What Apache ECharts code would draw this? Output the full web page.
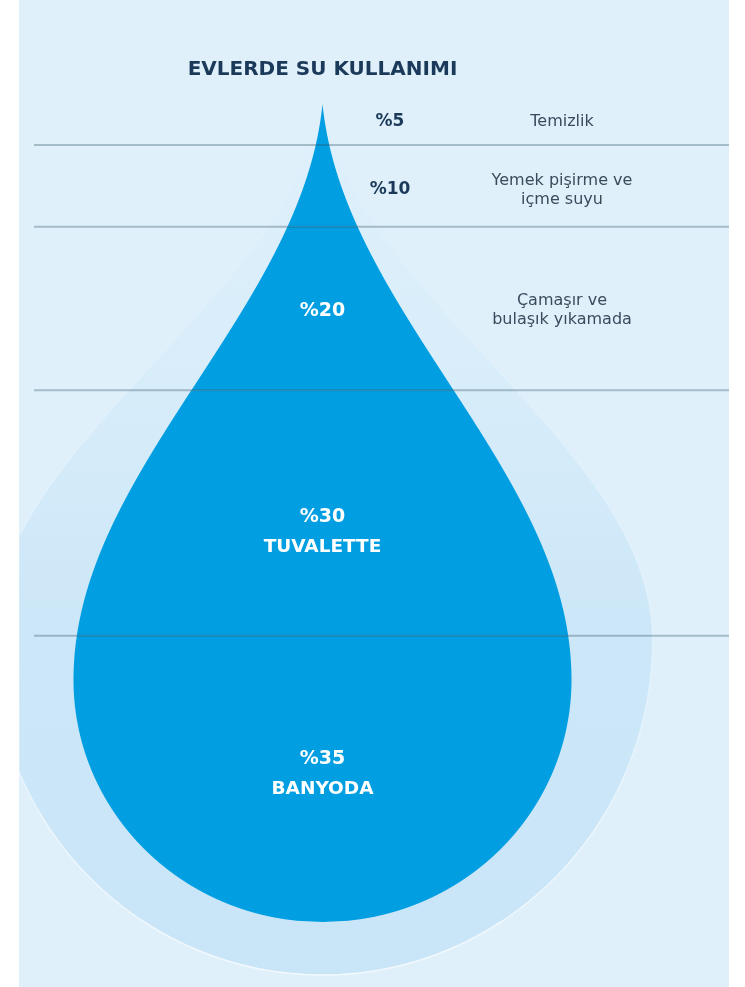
<!DOCTYPE html>
<html>
<head>
<meta charset="utf-8">
<script src="https://cdn.jsdelivr.net/npm/echarts@6/dist/echarts.min.js"></script>
<style>
  html, body { margin: 0; padding: 0; background: #ffffff; }
  #chart { width: 745px; height: 987px; }
</style>
</head>
<body>
<div id="chart"></div>
<script>
// ---- DATA ----
const titleText = 'EVLERDE SU KULLANIMI';
const categories = ['Temizlik', 'Yemek pişirme ve\niçme suyu', 'Çamaşır ve\nbulaşık yıkamada', 'TUVALETTE', 'BANYODA'];
const shares = [5, 10, 20, 30, 35];
const percentLabels = ['%5', '%10', '%20', '%30', '%35'];

// ---- LAYOUT / STYLE (not data) ----
const LAYOUT = {
  centerX: 322.5,
  dropHalfWidth: 249,
  dropBellyRatio: 0.704,
  tipBlend: 0.15,
  haloHalfWidth: 330,
  haloBellyY: 640,
  haloBottomY: 975,
  haloTopY: 100,
  bgX1: 19, bgX2: 729,
  lineX1: 34, lineX2: 729,
  outsideX: 390,
  descX: 562,
  labelInside: [false, false, true, true, true],
  descOutside: [true, true, true, false, false],
  pctOffset: [-2.5, 4, 2.5, 4.5, -20],
  subOffset: [0, 0, 0, 34, 10],
  descOffset: [-2.5, 5, 1.5, 0, 0]
};
const COLORS = {
  bg: '#dff0fb', drop: '#019fe2', line: 'rgba(41,74,92,0.32)',
  title: '#1b3a5a', pct: '#1b3a5a', desc: '#3a4b5c', white: '#ffffff'
};
const FONT = '"DejaVu Sans", Verdana, sans-serif';

// cumulative ranges built from shares
const ranges = [];
let acc = 0;
shares.forEach(v => { ranges.push([acc, acc + v]); acc += v; });
const total = acc;

function halfWidth(y, P) {
  if (y <= P.top || y >= P.bot) return 0;
  if (y >= P.mid) {
    const u = (y - P.mid) / (P.bot - P.mid);
    return P.a * Math.sqrt(Math.max(0, 1 - u * u));
  }
  const s = (y - P.top) / (P.mid - P.top);
  const sn = Math.sin(Math.PI * s / 2);
  return P.a * ((1 - P.w) * sn * sn + P.w * sn);
}

function bandPolygon(y0, y1, P, cx, xmin, xmax) {
  const right = [], left = [];
  const step = 1.5;
  const clampX = x => Math.min(xmax, Math.max(xmin, x));
  for (let y = y0; y < y1; y += step) {
    const h = halfWidth(y, P);
    right.push([clampX(cx + h), y]); left.push([clampX(cx - h), y]);
  }
  const hEnd = halfWidth(y1, P);
  right.push([clampX(cx + hEnd), y1]); left.push([clampX(cx - hEnd), y1]);
  return right.concat(left.reverse());
}

function dropParams(api) {
  const top = api.coord([0, 0])[1];
  const bot = api.coord([0, total])[1];
  return { top: top, bot: bot, mid: top + LAYOUT.dropBellyRatio * (bot - top), a: LAYOUT.dropHalfWidth, w: LAYOUT.tipBlend };
}

const chart = echarts.init(document.getElementById('chart'), null, { renderer: 'canvas' });

const option = {
  backgroundColor: '#ffffff',
  animation: false,
  graphic: [
    { type: 'rect', z: -10, silent: true, shape: { x: LAYOUT.bgX1, y: 0, width: LAYOUT.bgX2 - LAYOUT.bgX1, height: 987 }, style: { fill: COLORS.bg } },
    { type: 'text', z: 10, x: LAYOUT.centerX, y: 70, style: { text: titleText, fill: COLORS.title, font: 'bold 20px ' + FONT, textAlign: 'center', textVerticalAlign: 'middle' } }
  ],
  grid: { left: 0, right: 0, top: 104, bottom: 65 },
  xAxis: { type: 'value', min: 0, max: 745, show: false },
  yAxis: { type: 'value', min: 0, max: total, inverse: true, show: false },
  series: [
    {
      // halo behind the drop
      type: 'custom', z: 1, silent: true,
      data: [[0, total]],
      encode: { y: [0, 1] },
      renderItem: function (params, api) {
        const cx = api.coord([LAYOUT.centerX, 0])[0];
        const P = { top: LAYOUT.haloTopY, mid: LAYOUT.haloBellyY, bot: LAYOUT.haloBottomY, a: LAYOUT.haloHalfWidth, w: LAYOUT.tipBlend };
        return {
          type: 'polygon',
          shape: { points: bandPolygon(P.top, P.bot, P, cx, LAYOUT.bgX1, LAYOUT.bgX2) },
          style: {
            fill: new echarts.graphic.LinearGradient(0, 0, 0, 1, [
              { offset: 0, color: 'rgba(198,228,247,0)' },
              { offset: 0.3, color: 'rgba(198,228,247,0.25)' },
              { offset: 0.6, color: 'rgba(198,228,247,0.75)' },
              { offset: 1, color: 'rgba(198,228,247,0.9)' }
            ]),
            stroke: new echarts.graphic.LinearGradient(0, 0, 0, 1, [
              { offset: 0, color: 'rgba(255,255,255,0)' },
              { offset: 0.6, color: 'rgba(255,255,255,0.2)' },
              { offset: 1, color: 'rgba(255,255,255,0.7)' }
            ]),
            lineWidth: 1.5
          }
        };
      }
    },
    {
      // drop segments with labels
      type: 'custom', z: 2, silent: true,
      data: ranges.map((r, i) => [r[0], r[1], i]),
      encode: { y: [0, 1] },
      renderItem: function (params, api) {
        const i = params.dataIndex;
        const P = dropParams(api);
        const cx = api.coord([LAYOUT.centerX, 0])[0];
        const y0 = api.coord([0, api.value(0)])[1];
        const y1 = api.coord([0, api.value(1)])[1];
        const mid = (y0 + y1) / 2;
        const children = [{
          type: 'polygon',
          shape: { points: bandPolygon(Math.max(y0, P.top), y1, P, cx, -1e9, 1e9) },
          style: { fill: COLORS.drop }
        }];
        const inside = LAYOUT.labelInside[i];
        children.push({
          type: 'text', z2: 5,
          x: inside ? cx : LAYOUT.outsideX, y: mid + LAYOUT.pctOffset[i],
          style: { text: percentLabels[i], fill: inside ? COLORS.white : COLORS.pct, font: (inside ? 'bold 19px ' : 'bold 17px ') + FONT, textAlign: 'center', textVerticalAlign: 'middle' }
        });
        if (LAYOUT.descOutside[i]) {
          children.push({
            type: 'text', z2: 5,
            x: LAYOUT.descX, y: mid + LAYOUT.descOffset[i],
            style: { text: categories[i], fill: COLORS.desc, font: '16px ' + FONT, lineHeight: 19, textAlign: 'center', textVerticalAlign: 'middle' }
          });
        } else {
          children.push({
            type: 'text', z2: 5,
            x: cx, y: mid + LAYOUT.subOffset[i],
            style: { text: categories[i], fill: COLORS.white, font: 'bold 18.5px ' + FONT, textAlign: 'center', textVerticalAlign: 'middle' }
          });
        }
        return { type: 'group', children: children };
      }
    },
    {
      // boundary lines between segments
      type: 'custom', z: 3, silent: true,
      data: ranges.slice(0, ranges.length - 1).map(r => [r[1]]),
      encode: { y: 0 },
      renderItem: function (params, api) {
        const y = api.coord([0, api.value(0)])[1];
        return {
          type: 'line',
          shape: { x1: LAYOUT.lineX1, y1: y, x2: LAYOUT.lineX2, y2: y },
          style: { stroke: COLORS.line, lineWidth: 2 }
        };
      }
    }
  ]
};
chart.setOption(option);
</script>
</body>
</html>
